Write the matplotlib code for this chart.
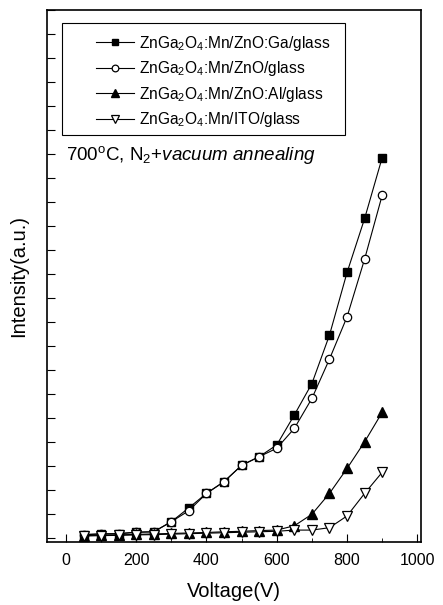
import matplotlib.pyplot as plt
from matplotlib.patches import Rectangle
from matplotlib.ticker import MultipleLocator

plt.rcParams['font.family'] = ['Liberation Sans', 'DejaVu Sans']
plt.rcParams['mathtext.fontset'] = 'custom'
plt.rcParams['mathtext.rm'] = 'Liberation Sans'
plt.rcParams['mathtext.it'] = 'Liberation Sans:italic'

voltage = [50, 100, 150, 200, 250, 300, 350, 400, 450, 500, 550, 600, 650, 700, 750, 800, 850, 900]

zno_ga = [0.14, 0.17, 0.18, 0.24, 0.26, 0.68, 1.26, 1.86, 2.35, 3.03, 3.39, 3.88, 5.13, 6.44, 8.46, 11.07, 13.32, 15.86]
zno = [0.14, 0.17, 0.18, 0.24, 0.26, 0.68, 1.14, 1.86, 2.35, 3.03, 3.39, 3.74, 4.57, 5.82, 7.46, 9.22, 11.63, 14.29]
zno_al = [0.10, 0.12, 0.13, 0.15, 0.17, 0.19, 0.21, 0.23, 0.26, 0.28, 0.31, 0.33, 0.51, 0.99, 1.86, 2.90, 4.01, 5.24]
ito = [0.08, 0.10, 0.11, 0.13, 0.14, 0.16, 0.18, 0.20, 0.22, 0.24, 0.26, 0.28, 0.33, 0.33, 0.43, 0.92, 1.86, 2.74]

labels = [r'ZnGa$_2$O$_4$:Mn/ZnO:Ga/glass',
          r'ZnGa$_2$O$_4$:Mn/ZnO/glass',
          r'ZnGa$_2$O$_4$:Mn/ZnO:Al/glass',
          r'ZnGa$_2$O$_4$:Mn/ITO/glass']

fig = plt.figure(figsize=(4.43, 6.05), dpi=100)
ax = fig.add_axes([0.106, 0.104, 0.844, 0.879])

lw = 0.8
ax.plot(voltage, zno_ga, '-', color='black', lw=lw, marker='s', ms=5.5, mfc='black', mec='black', label=labels[0])
ax.plot(voltage, zno, '-', color='black', lw=lw, marker='o', ms=6, mfc='white', mec='black', mew=0.9, label=labels[1])
ax.plot(voltage, zno_al, '-', color='black', lw=lw, marker='^', ms=6.5, mfc='black', mec='black', label=labels[2])
ax.plot(voltage, ito, '-', color='black', lw=lw, marker='v', ms=6.5, mfc='white', mec='black', mew=0.9, label=labels[3])

ax.set_xlim(-54, 1010)
ax.set_ylim(-0.17, 22.0)
ax.xaxis.set_major_locator(MultipleLocator(200))
ax.xaxis.set_minor_locator(MultipleLocator(100))
ax.yaxis.set_major_locator(MultipleLocator(1))
ax.set_yticklabels([])
ax.tick_params(axis='x', which='major', direction='in', length=6, labelsize=11.5, pad=8)
ax.tick_params(axis='x', which='minor', direction='in', length=3)
ax.tick_params(axis='y', which='major', direction='in', length=6)
for s in ax.spines.values():
    s.set_linewidth(1.2)

ax.set_xlabel('Voltage(V)', fontsize=14.5, labelpad=10)
ax.set_ylabel('Intensity(a.u.)', fontsize=14.5, labelpad=10)

# legend box drawn separately (wide left margin like the original)
ax.add_patch(Rectangle((0.04, 0.765), 0.757, 0.211, transform=ax.transAxes,
                       fill=False, edgecolor='black', lw=0.8, zorder=4))
leg = ax.legend(loc='upper left', bbox_to_anchor=(0.13, 0.956), borderaxespad=0,
                fontsize=11.2, frameon=False, markerscale=0.8,
                handlelength=2.5, handletextpad=0.3, labelspacing=0.42, borderpad=0)

ax.text(0.05, 0.727, r'700$^{\rm o}$C, N$_2$+$\it{vacuum\ annealing}$', transform=ax.transAxes,
        fontsize=13.5, va='center', ha='left')

fig.savefig('out.png', dpi=100)
